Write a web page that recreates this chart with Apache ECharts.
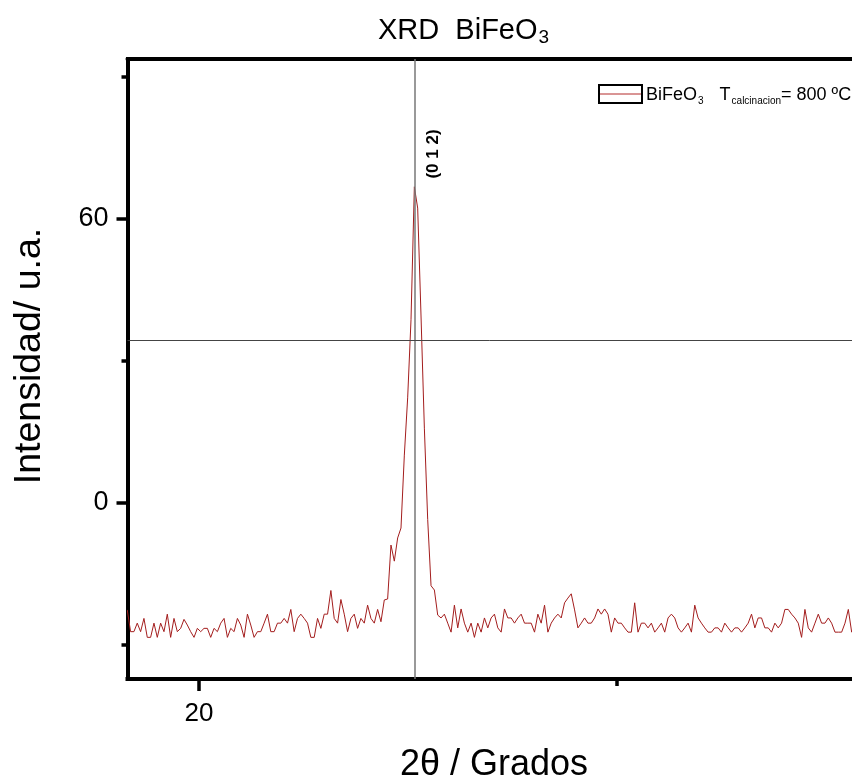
<!DOCTYPE html>
<html>
<head>
<meta charset="utf-8">
<script src="https://cdn.jsdelivr.net/npm/echarts@6/dist/echarts.min.js"></script>
<style>
html,body{margin:0;padding:0;background:#fff;}
#chart{width:852px;height:781px;}
</style>
</head>
<body>
<div id="chart"></div>
<script>
// ---- data ----
const angleStart = 19.14;   // 2θ of first sample (degrees)
const angleStep = 0.04;     // scan step (degrees)
const intensity = [
 -22.6,-27.2,-27.2,-25.4,-27.2,-24.4,-28.4,-28.4,-25.4,-28.4,
 -25.4,-27.2,-23.5,-28.4,-24.4,-27.2,-26.5,-24.6,-25.8,-27.2,
 -28.4,-26.5,-27.2,-26.5,-26.5,-28.4,-26.5,-27.2,-25.4,-24.4,
 -28.4,-26.5,-27.2,-24.4,-25.8,-28.4,-23.5,-25.8,-28.4,-27.2,
 -27.2,-25.4,-23.5,-27.2,-27.2,-25.4,-25.4,-24.4,-25.4,-22.5,
 -27.2,-24.4,-23.5,-24.4,-25.4,-28.4,-28.4,-24.4,-26.5,-23.5,
 -23.5,-18.5,-24.4,-25.4,-20.4,-23.5,-27.2,-24.4,-23.5,-26.5,
 -24.4,-25.4,-21.6,-24.4,-25.4,-22.5,-25.1,-20.5,-20.3,-8.9,
 -12.3,-7.4,-5.3,10.1,22.2,38.7,66.8,62.3,39.5,15.8,
 -3.5,-17.5,-18.4,-23.7,-24.3,-23.5,-25.4,-27.3,-21.6,-26.4,
 -22.4,-25.4,-27.3,-25.4,-28.4,-25.4,-27.3,-24.3,-26.4,-24.3,
 -23.5,-26.4,-27.3,-22.4,-24.3,-24.3,-25.4,-24.3,-23.5,-25.4,
 -25.4,-25.4,-27.3,-23.5,-25.4,-21.6,-27.3,-25.4,-24.3,-23.5,
 -24.3,-21.1,-20.1,-19.2,-22.6,-26.4,-25.4,-24.3,-25.4,-25.4,
 -24.3,-22.4,-23.5,-22.4,-23.5,-27.3,-24.3,-25.4,-25.4,-26.4,
 -27.3,-27.3,-21.1,-27.3,-25.4,-25.4,-26.4,-25.4,-27.3,-26.4,
 -25.4,-27.3,-24.3,-23.5,-24.3,-26.4,-27.3,-26.4,-25.4,-27.3,
 -21.6,-24.3,-25.4,-26.4,-27.3,-27.3,-26.4,-26.4,-27.3,-25.4,
 -26.4,-27.3,-26.4,-26.4,-27.3,-26.4,-25.4,-23.5,-26.4,-24.3,
 -24.3,-26.4,-26.4,-27.3,-25.4,-26.4,-25.4,-22.5,-22.5,-23.5,
 -24.3,-25.4,-28.4,-22.5,-26.4,-27.3,-25.4,-23.5,-25.4,-25.4,
 -24.3,-25.4,-27.3,-27.3,-27.3,-25.4,-22.5,-27.3,-26.4
];
const xTickValues = [20, 25];
const xLabelValues = [20];
const yMajorValues = [0, 60];
const yMinorValues = [-30, 30, 90];
const peakAngle = 22.58;     // vertical reference line
const refIntensity = 34.3;   // horizontal reference line
const peakLabel = '(0 1 2)';

// ---- chart ----
const FONT = 'Liberation Sans, Arial, sans-serif';
const points = intensity.map((v, i) => [+(angleStart + i * angleStep).toFixed(2), v]);
const xMin = 19.143, xMax = 27.824, yMin = -37.2, yMax = 93.8;

const chart = echarts.init(document.getElementById('chart'), null, {renderer: 'canvas'});
chart.setOption({
  animation: false,
  backgroundColor: '#fff',
  title: {
    text: 'XRD  BiFeO{s|3}',
    left: 378, top: 14, padding: 0,
    textStyle: {
      fontFamily: FONT, fontSize: 29, fontWeight: 'normal', color: '#000',
      rich: { s: { fontFamily: FONT, fontSize: 19, color: '#000', verticalAlign: 'bottom', padding: [14, 0, 0, 1] } }
    }
  },
  grid: { left: 127.5, top: 59, right: 0, bottom: 102, outerBoundsMode: 'none', containLabel: false },
  xAxis: [
    {
      type: 'value', min: xMin, max: xMax, position: 'bottom',
      axisLine: { show: true, onZero: false, lineStyle: { color: '#000', width: 4, cap: 'square' } },
      axisTick: { show: true, customValues: [xTickValues[0]], length: 12, lineStyle: { color: '#000', width: 3.5 } },
      axisLabel: { show: true, customValues: xLabelValues, fontFamily: FONT, fontSize: 26, color: '#000', margin: 22 },
      splitLine: { show: false }
    },
    {
      type: 'value', min: xMin, max: xMax, position: 'bottom',
      axisLine: { show: false, onZero: false },
      axisTick: { show: true, customValues: [xTickValues[1]], length: 7, lineStyle: { color: '#000', width: 3.5 } },
      axisLabel: { show: false },
      splitLine: { show: false }
    },
    {
      type: 'value', min: xMin, max: xMax, position: 'top',
      axisLine: { show: true, onZero: false, lineStyle: { color: '#000', width: 4 } },
      axisTick: { show: false }, axisLabel: { show: false }, splitLine: { show: false }
    }
  ],
  yAxis: [
    {
      type: 'value', min: yMin, max: yMax, position: 'left',
      axisLine: { show: true, onZero: false, lineStyle: { color: '#000', width: 4, cap: 'square' } },
      axisTick: { show: true, customValues: yMajorValues, length: 11, lineStyle: { color: '#000', width: 3.5 } },
      axisLabel: { show: true, customValues: yMajorValues, fontFamily: FONT, fontSize: 27, color: '#000', margin: 19 },
      splitLine: { show: false }
    },
    {
      type: 'value', min: yMin, max: yMax, position: 'left',
      axisLine: { show: false, onZero: false },
      axisTick: { show: true, customValues: yMinorValues, length: 6, lineStyle: { color: '#000', width: 3.5 } },
      axisLabel: { show: false },
      splitLine: { show: false }
    }
  ],
  series: [{
    type: 'line', name: 'BiFeO3', xAxisIndex: 0, yAxisIndex: 0,
    data: points, symbol: 'none', showSymbol: false,
    lineStyle: { color: '#a31d1d', width: 1 },
    markLine: {
      silent: true, symbol: 'none', animation: false,
      label: { show: false },
      data: [
        { xAxis: peakAngle, lineStyle: { color: '#777', width: 1.5, type: 'solid' } },
        { yAxis: refIntensity, lineStyle: { color: '#444', width: 1, type: 'solid' } }
      ]
    }
  }],
  graphic: [
    { type: 'text', x: 30, y: 356, rotation: Math.PI / 2,
      style: { text: 'Intensidad/ u.a.', fontFamily: FONT, fontSize: 37.5, fill: '#000', align: 'center', verticalAlign: 'middle' } },
    { type: 'text', x: 494, y: 765,
      style: { text: '2θ / Grados', fontFamily: FONT, fontSize: 36, fill: '#000', align: 'center', verticalAlign: 'middle' } },
    { type: 'text', x: 433, y: 154, rotation: Math.PI / 2,
      style: { text: peakLabel, fontFamily: FONT, fontSize: 17, fontWeight: 'bold', fill: '#000', align: 'center', verticalAlign: 'middle' } },
    { type: 'rect', shape: { x: 599, y: 85, width: 43, height: 18 },
      style: { fill: '#fff', stroke: '#000', lineWidth: 2 } },
    { type: 'line', shape: { x1: 600, y1: 94, x2: 641, y2: 94 },
      style: { stroke: '#b32a2a', lineWidth: 1 } },
    { type: 'text', x: 646, y: 95,
      style: {
        text: 'BiFeO{s|3}  {t|T}{s|calcinacion}= 800 ºC',
        fontFamily: FONT, fontSize: 18, fill: '#000', verticalAlign: 'middle',
        rich: {
          s: { fontFamily: FONT, fontSize: 10, fill: '#000', padding: [13, 0, 0, 1] },
          t: { fontFamily: FONT, fontSize: 18, fill: '#000', padding: [0, 0, 0, 6] }
        }
      } }
  ]
});
</script>
</body>
</html>
